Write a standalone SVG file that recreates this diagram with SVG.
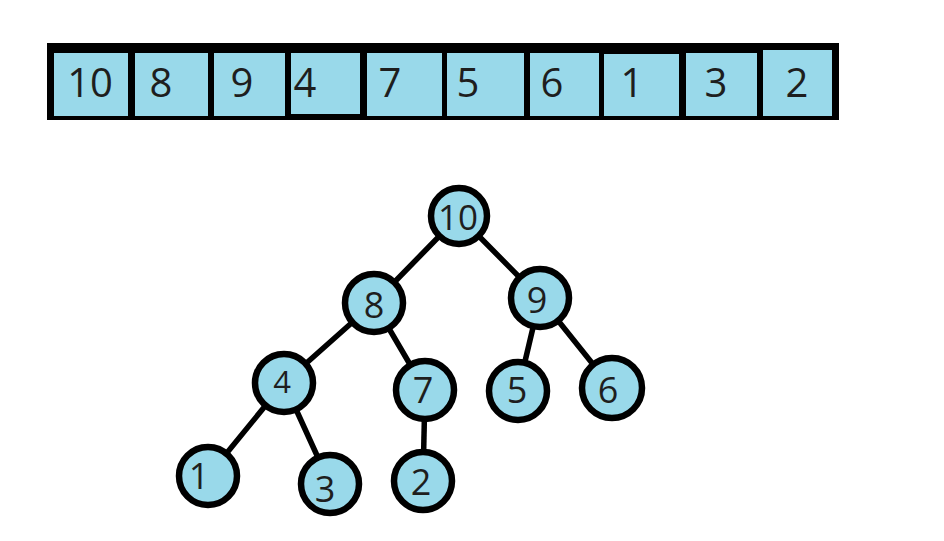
<svg xmlns="http://www.w3.org/2000/svg" width="944" height="541" viewBox="0 0 944 541">
<style>
.cell{fill:#99d9ea}
.t{font-family:"Open Sans","DejaVu Sans",sans-serif;font-size:40px;fill:#1e1e1e;text-anchor:middle}
.n{fill:#99d9ea;stroke:#000;stroke-width:6.5}
.nt{font-family:"Open Sans","DejaVu Sans",sans-serif;font-size:36px;fill:#1e1e1e;text-anchor:middle}
.e{stroke:#000;stroke-width:5.5;stroke-linecap:round}
</style>
<rect width="944" height="541" fill="#fff"/>
<g id="array">
<rect x="47" y="43" width="792" height="77" fill="#000"/>
<rect class="cell" x="54" y="53" width="74" height="63"/>
<rect class="cell" x="135" y="53" width="73" height="63"/>
<rect class="cell" x="214" y="53" width="71" height="63"/>
<rect class="cell" x="291" y="53" width="69" height="61"/>
<rect class="cell" x="367" y="53" width="75" height="63"/>
<rect class="cell" x="447" y="53" width="77" height="63"/>
<rect class="cell" x="530" y="53" width="69" height="63"/>
<rect class="cell" x="604" y="54" width="75" height="62"/>
<rect class="cell" x="686" y="53" width="71" height="63"/>
<rect class="cell" x="763" y="50" width="69" height="66"/>
<text class="t" x="90" y="97">10</text>
<text class="t" x="161" y="97">8</text>
<text class="t" x="242" y="97">9</text>
<text class="t" x="305" y="97">4</text>
<text class="t" x="390" y="97">7</text>
<text class="t" x="468" y="97">5</text>
<text class="t" x="552" y="97">6</text>
<text class="t" x="632" y="97">1</text>
<text class="t" x="716" y="97">3</text>
<text class="t" x="797" y="97">2</text>
</g>
<g id="connectors">
<line class="e" x1="459" y1="216" x2="374" y2="303"/>
<line class="e" x1="459" y1="216" x2="540" y2="298"/>
<line class="e" x1="374" y1="303" x2="284" y2="383"/>
<line class="e" x1="374" y1="303" x2="425" y2="390"/>
<line class="e" x1="540" y1="298" x2="518" y2="391"/>
<line class="e" x1="540" y1="298" x2="612" y2="388"/>
<line class="e" x1="284" y1="383" x2="208" y2="476"/>
<line class="e" x1="284" y1="383" x2="330" y2="484"/>
<line class="e" x1="425" y1="390" x2="423" y2="481"/>
</g>
<g id="n10"><circle class="n" cx="459" cy="216" r="28"/><text class="nt" x="458" y="230" style="font-size:35px">10</text></g>
<g id="n8"><circle class="n" cx="374" cy="303" r="29"/><text class="nt" x="374" y="318">8</text></g>
<g id="n9"><circle class="n" cx="540" cy="298" r="29"/><text class="nt" x="537" y="313">9</text></g>
<g id="n4"><circle class="n" cx="284" cy="383" r="29"/><text class="nt" x="282" y="393" style="font-size:31px">4</text></g>
<g id="n7"><circle class="n" cx="425" cy="390" r="29"/><text class="nt" x="423" y="403">7</text></g>
<g id="n5"><circle class="n" cx="518" cy="391" r="29"/><text class="nt" x="517" y="403">5</text></g>
<g id="n6"><circle class="n" cx="612" cy="388" r="30"/><text class="nt" x="608" y="403">6</text></g>
<g id="n1"><circle class="n" cx="208" cy="476" r="29"/><text class="nt" x="199" y="489">1</text></g>
<g id="n3"><circle class="n" cx="330" cy="484" r="29"/><text class="nt" x="325" y="502">3</text></g>
<g id="n2"><circle class="n" cx="423" cy="481" r="29"/><text class="nt" x="421" y="495">2</text></g>
</svg>
